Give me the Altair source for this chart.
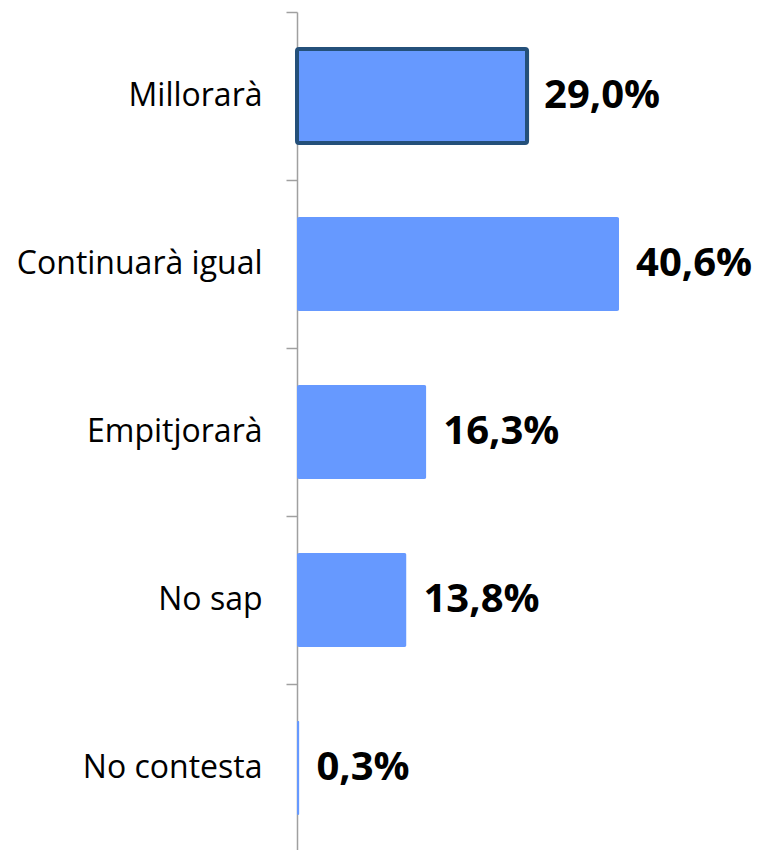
import altair as alt
import pandas as pd

categories = ["Millorarà", "Continuarà igual", "Empitjorarà", "No sap", "No contesta"]
values = [29.0, 40.6, 16.3, 13.8, 0.3]
value_labels = ["29,0%", "40,6%", "16,3%", "13,8%", "0,3%"]

df = pd.DataFrame({"cat": categories, "val": values, "lbl": value_labels})

y = alt.Y("cat:N", sort=categories, title=None,
          scale=alt.Scale(paddingInner=0, paddingOuter=0),
          axis=alt.Axis(bandPosition=0, labelOffset=0, tickSize=11, tickColor="#a0a0a0",
                        domainColor="#a0a0a0", domainWidth=1.5, tickWidth=1.5,
                        labelFont="Open Sans", labelFontSize=32, labelColor="#000000",
                        labelPadding=24, labelLimit=400))
x = alt.X("val:Q", title=None, scale=alt.Scale(domain=[0, 45], nice=False), axis=None)

bars = alt.Chart(df).mark_bar(size=94, color="#6699FF", stroke="#24507A", cornerRadius=2).encode(
    y=y, x=x,
    strokeWidth=alt.condition(alt.datum.cat == "Millorarà", alt.value(4), alt.value(0)),
)
text = alt.Chart(df).mark_text(align="left", baseline="middle", dx=17, font="Open Sans",
                               fontWeight="bold", fontSize=40, color="#000000").encode(
    y=alt.Y("cat:N", sort=categories), x="val:Q", text="lbl:N"
)

chart = alt.layer(bars, text).properties(
    width=357, height=840,
    background="white",
    autosize=alt.AutoSizeParams(type="none"),
    padding={"left": 289, "top": 4, "right": 100, "bottom": 0},
).configure_view(strokeWidth=0, stroke="transparent")

chart.save("out.html", embed_options={"renderer": "svg", "actions": False})
